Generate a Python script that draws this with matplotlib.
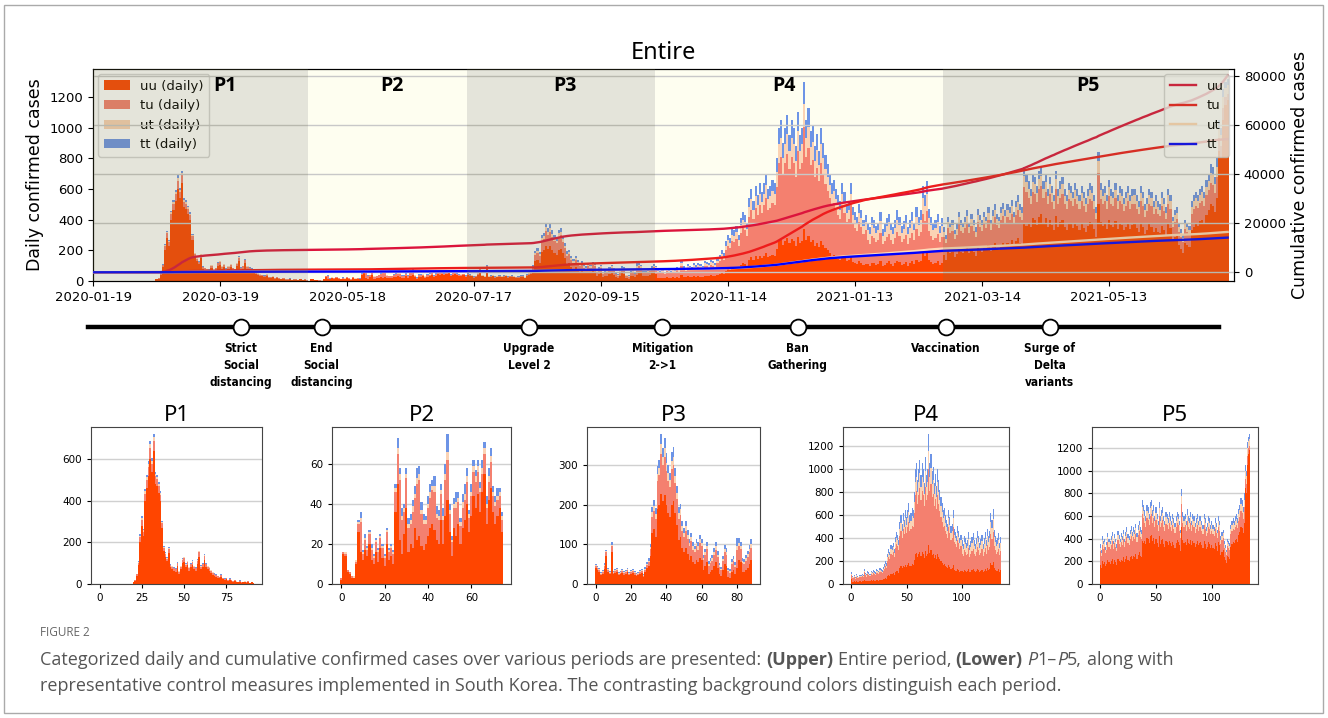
import numpy as np
import pandas as pd
import matplotlib
matplotlib.use("Agg")
import matplotlib.pyplot as plt
from matplotlib import font_manager as fm
from matplotlib.patches import Patch, Rectangle
from matplotlib.lines import Line2D
from matplotlib.ticker import MultipleLocator

# ---------------- data ----------------
START = "2020-01-19"

# days before P1, shown only in the upper panel
pre_uu = [0, 1, 0, 0, 0, 0, 1, 0, 0, 1]
pre_tu = [0, 0, 0, 0, 0, 0, 0, 0, 0, 0]
pre_ut = [0, 0, 0, 0, 0, 0, 0, 0, 0, 0]
pre_tt = [0, 0, 0, 0, 0, 0, 0, 0, 0, 0]

uu_p1 = [1, 0, 0, 1, 0, 0, 0, 1, 0, 0,
         0, 1, 0, 0, 0, 1, 0, 0, 1, 2,
         10, 15, 40, 90, 200, 280, 230, 400, 460, 520,
         600, 540, 640, 480, 470, 440, 400, 270, 160, 130,
         110, 150, 80, 70, 65, 60, 85, 50, 70, 100,
         105, 80, 90, 65, 80, 90, 70, 65, 95, 130,
         70, 80, 115, 80, 70, 65, 55, 45, 40, 35,
         30, 28, 35, 22, 20, 24, 15, 20, 14, 11,
         15, 9, 8, 12, 6, 8, 9, 6, 11, 4,
         8, 3]
tu_p1 = [0, 0, 0, 0, 0, 0, 0, 0, 0, 0,
         0, 0, 0, 0, 0, 0, 0, 0, 0, 0,
         1, 3, 6, 12, 25, 30, 22, 35, 40, 45,
         55, 40, 50, 38, 35, 32, 30, 22, 15, 14,
         12, 18, 10, 12, 11, 10, 14, 9, 12, 16,
         18, 13, 15, 12, 14, 16, 12, 11, 16, 22,
         14, 15, 20, 14, 13, 12, 10, 9, 8, 7,
         7, 6, 7, 5, 5, 5, 4, 5, 4, 3,
         4, 3, 2, 3, 2, 2, 3, 2, 3, 1,
         2, 1]
ut_p1 = [0, 0, 0, 0, 0, 0, 0, 0, 0, 0,
         0, 0, 0, 0, 0, 0, 0, 0, 0, 0,
         0, 1, 2, 4, 8, 10, 8, 12, 14, 15,
         18, 14, 16, 12, 12, 10, 9, 7, 5, 4,
         4, 5, 3, 3, 3, 3, 4, 2, 3, 4,
         5, 3, 4, 3, 4, 4, 3, 3, 4, 5,
         3, 3, 4, 3, 3, 3, 2, 2, 2, 2,
         2, 1, 2, 1, 1, 1, 1, 1, 1, 1,
         1, 1, 0, 1, 0, 1, 1, 0, 1, 0,
         1, 0]
tt_p1 = [0, 0, 0, 0, 0, 0, 0, 0, 0, 0,
         0, 0, 0, 0, 0, 0, 0, 0, 0, 0,
         0, 1, 2, 3, 7, 9, 7, 10, 12, 13,
         16, 12, 14, 11, 10, 9, 8, 6, 4, 4,
         3, 5, 3, 3, 2, 3, 3, 2, 3, 3,
         4, 3, 3, 3, 3, 4, 3, 2, 3, 4,
         3, 3, 4, 3, 3, 2, 2, 2, 2, 2,
         1, 1, 2, 1, 1, 1, 1, 1, 1, 1,
         1, 1, 0, 1, 0, 1, 0, 0, 1, 0,
         1, 0]

uu_p2 = [2, 15, 14, 6, 5, 3, 3, 10, 26, 16,
         12, 17, 14, 20, 12, 10, 16, 11, 18, 13,
         9, 20, 12, 14, 10, 36, 50, 22, 15, 25,
         38, 16, 20, 18, 28, 22, 24, 19, 17, 20,
         24, 28, 30, 27, 22, 20, 32, 20, 34, 42,
         26, 14, 28, 24, 30, 20, 28, 32, 40, 26,
         34, 44, 38, 45, 36, 46, 55, 30, 42, 48,
         36, 30, 34, 38, 26]
tu_p2 = [1, 1, 1, 1, 1, 1, 0, 1, 4, 15,
         3, 5, 3, 5, 5, 3, 5, 5, 5, 5,
         4, 6, 4, 4, 5, 10, 15, 30, 17, 11,
         15, 12, 10, 18, 15, 28, 28, 16, 13, 10,
         14, 15, 17, 19, 11, 12, 13, 12, 18, 20,
         9, 7, 10, 14, 11, 9, 10, 10, 11, 7,
         10, 12, 13, 11, 10, 9, 10, 8, 9, 13,
         8, 9, 8, 6, 6]
ut_p2 = [0, 0, 1, 0, 0, 0, 1, 1, 1, 2,
         1, 1, 1, 1, 1, 1, 1, 1, 1, 1,
         1, 1, 1, 1, 1, 2, 3, 3, 2, 2,
         2, 2, 2, 3, 2, 3, 3, 2, 2, 2,
         2, 3, 2, 3, 2, 2, 2, 2, 3, 4,
         2, 1, 2, 3, 2, 2, 3, 3, 3, 2,
         2, 3, 3, 3, 2, 3, 3, 2, 3, 3,
         2, 2, 2, 2, 2]
tt_p2 = [0, 0, 0, 0, 0, 0, 0, 0, 1, 3,
         1, 2, 1, 1, 2, 1, 1, 1, 1, 1,
         1, 1, 1, 1, 1, 2, 5, 3, 4, 2,
         3, 3, 3, 3, 4, 5, 4, 4, 3, 2,
         4, 4, 3, 5, 4, 3, 3, 4, 5, 9,
         3, 2, 3, 5, 3, 2, 4, 5, 4, 2,
         4, 3, 3, 3, 3, 4, 3, 4, 4, 4,
         3, 3, 4, 2, 2]

uu_p3 = [40, 35, 30, 22, 25, 38, 70, 30, 25, 80,
         25, 28, 30, 22, 25, 28, 24, 26, 30, 22,
         25, 28, 24, 20, 22, 26, 28, 18, 30, 40,
         45, 70, 130, 140, 120, 190, 200, 228, 210, 225,
         200, 180, 170, 200, 210, 180, 150, 110, 120, 90,
         80, 90, 75, 60, 70, 55, 50, 60, 55, 65,
         60, 35, 45, 55, 25, 30, 35, 45, 55, 40,
         25, 20, 35, 50, 45, 18, 15, 30, 35, 25,
         40, 60, 55, 30, 30, 35, 40, 50, 60]
tu_p3 = [5, 5, 5, 4, 5, 8, 10, 5, 4, 15,
         4, 5, 5, 4, 4, 5, 4, 5, 5, 4,
         5, 5, 4, 4, 4, 5, 5, 3, 6, 8,
         10, 18, 40, 45, 45, 70, 75, 100, 90, 95,
         85, 80, 75, 90, 90, 75, 65, 55, 55, 45,
         40, 45, 40, 35, 38, 32, 30, 35, 32, 38,
         35, 25, 28, 33, 20, 22, 24, 28, 32, 27,
         18, 15, 22, 30, 28, 14, 13, 20, 22, 18,
         45, 35, 33, 22, 20, 24, 28, 30, 32]
ut_p3 = [2, 2, 2, 2, 2, 3, 3, 2, 2, 4,
         2, 2, 2, 2, 2, 2, 2, 2, 2, 2,
         2, 2, 2, 2, 2, 2, 2, 2, 3, 3,
         4, 6, 12, 12, 12, 18, 18, 25, 22, 25,
         22, 20, 18, 22, 22, 18, 16, 14, 14, 12,
         10, 12, 10, 9, 10, 8, 8, 9, 8, 10,
         9, 6, 7, 8, 5, 6, 6, 7, 8, 7,
         5, 4, 6, 8, 8, 4, 4, 5, 6, 5,
         12, 9, 8, 6, 5, 6, 7, 8, 9]
tt_p3 = [3, 3, 3, 2, 3, 4, 2, 3, 2, 6,
         2, 3, 3, 2, 3, 3, 2, 3, 3, 2,
         3, 3, 2, 2, 3, 3, 3, 2, 4, 5,
         6, 8, 12, 15, 15, 20, 20, 25, 22, 25,
         23, 20, 18, 22, 25, 20, 18, 15, 14, 13,
         12, 13, 12, 10, 12, 10, 9, 10, 10, 12,
         11, 8, 9, 10, 7, 8, 8, 10, 10, 9,
         6, 5, 8, 10, 10, 5, 5, 7, 8, 7,
         20, 12, 10, 8, 7, 8, 9, 10, 12]

# P4 and P5: daily total (top of the stack) plus uu, ut, tt; tu is the rest
top_p4 = [100, 70, 65, 75, 60, 85, 70, 65, 80, 75,
          90, 80, 130, 95, 85, 110, 100, 90, 115, 105,
          120, 110, 100, 130, 125, 115, 140, 130, 120, 150,
          170, 200, 180, 260, 300, 280, 340, 330, 360, 300,
          410, 450, 430, 380, 540, 600, 520, 620, 560, 640,
          580, 640, 700, 600, 620, 660, 640, 800, 1000, 1050,
          900, 1000, 1080, 950, 1050, 1000, 880, 1100, 950, 1000,
          1300, 1050, 1130, 980, 1020, 880, 960, 850, 1000, 900,
          820, 760, 700, 640, 660, 600, 560, 520, 640, 580,
          500, 520, 640, 480, 450, 420, 500, 460, 400, 430,
          380, 350, 420, 400, 360, 380, 450, 340, 370, 410,
          440, 380, 350, 400, 460, 420, 360, 390, 430, 350,
          400, 450, 380, 480, 420, 460, 620, 560, 650, 470,
          420, 380, 400, 440, 360, 410]
uu_p4 = [45, 20, 18, 22, 17, 25, 20, 18, 23, 21,
         25, 22, 36, 26, 23, 30, 27, 24, 31, 28,
         32, 29, 26, 35, 33, 30, 37, 34, 31, 40,
         45, 52, 47, 68, 78, 73, 88, 86, 94, 78,
         105, 117, 110, 98, 140, 155, 135, 160, 145, 165,
         150, 165, 180, 155, 160, 170, 165, 210, 260, 270,
         235, 260, 280, 245, 275, 260, 230, 285, 245, 260,
         340, 270, 295, 255, 265, 230, 250, 220, 260, 235,
         215, 200, 180, 165, 170, 155, 145, 135, 165, 150,
         130, 135, 165, 125, 115, 110, 130, 120, 105, 110,
         110, 100, 120, 115, 105, 110, 130, 100, 105, 120,
         128, 110, 100, 116, 133, 122, 104, 113, 125, 100,
         116, 130, 110, 140, 122, 133, 180, 162, 190, 136,
         122, 110, 116, 128, 104, 119]
ut_p4 = [10, 8, 8, 9, 7, 10, 8, 8, 10, 9,
         11, 10, 15, 11, 10, 13, 12, 11, 14, 12,
         14, 13, 12, 16, 15, 14, 17, 15, 14, 18,
         20, 24, 22, 31, 36, 34, 41, 40, 43, 36,
         49, 54, 52, 46, 65, 72, 62, 74, 67, 77,
         70, 77, 84, 72, 74, 79, 77, 96, 120, 126,
         108, 120, 130, 114, 126, 120, 106, 132, 114, 120,
         156, 126, 136, 118, 122, 106, 115, 102, 120, 108,
         98, 91, 84, 77, 79, 72, 67, 62, 77, 70,
         60, 62, 77, 58, 54, 50, 60, 55, 48, 52,
         65, 60, 71, 68, 61, 65, 77, 58, 63, 70,
         75, 65, 60, 68, 78, 71, 61, 66, 73, 60,
         68, 77, 65, 82, 71, 78, 105, 95, 110, 80,
         71, 65, 68, 75, 61, 70]
tt_p4 = [10, 8, 7, 9, 7, 10, 8, 7, 9, 9,
         10, 9, 14, 10, 10, 12, 11, 10, 13, 12,
         13, 12, 11, 15, 14, 13, 16, 15, 13, 17,
         19, 22, 20, 29, 33, 31, 37, 36, 40, 33,
         45, 50, 47, 42, 60, 66, 57, 68, 62, 70,
         64, 70, 77, 66, 68, 73, 70, 88, 110, 116,
         99, 110, 119, 105, 116, 110, 97, 121, 105, 110,
         143, 116, 124, 108, 112, 97, 106, 94, 110, 99,
         90, 84, 77, 70, 73, 66, 62, 57, 70, 64,
         55, 57, 70, 53, 50, 46, 55, 51, 44, 47,
         50, 46, 55, 52, 47, 50, 59, 44, 48, 53,
         57, 50, 46, 52, 60, 55, 47, 51, 56, 46,
         52, 59, 50, 62, 55, 60, 81, 73, 85, 61,
         55, 50, 52, 57, 47, 53]

top_p5 = [350, 300, 420, 380, 400, 330, 370, 450, 400, 380,
          420, 460, 380, 440, 400, 350, 470, 430, 400, 450,
          420, 480, 400, 460, 500, 440, 420, 480, 510, 460,
          500, 480, 530, 450, 520, 560, 500, 480, 740, 700,
          650, 600, 700, 680, 620, 720, 740, 650, 700, 600,
          680, 620, 560, 720, 600, 650, 680, 600, 560, 640,
          620, 580, 640, 600, 560, 620, 580, 540, 600, 640,
          620, 560, 480, 840, 640, 600, 620, 560, 660, 600,
          580, 640, 560, 620, 600, 540, 580, 620, 560, 600,
          600, 560, 520, 620, 580, 500, 540, 600, 580, 520,
          560, 520, 500, 580, 540, 480, 600, 560, 420, 460,
          480, 380, 340, 300, 400, 380, 360, 520, 560, 580,
          560, 600, 620, 580, 660, 700, 760, 740, 680, 800,
          1050, 1000, 1250, 1300, 1320]
uu_p5 = [170, 140, 200, 180, 190, 155, 175, 215, 190, 180,
         200, 220, 180, 210, 190, 165, 225, 205, 190, 215,
         205, 235, 195, 225, 245, 215, 205, 235, 250, 225,
         250, 240, 265, 225, 260, 280, 250, 240, 380, 360,
         380, 350, 410, 400, 365, 420, 435, 380, 410, 350,
         400, 365, 330, 425, 355, 385, 400, 355, 330, 380,
         370, 345, 380, 360, 335, 370, 345, 320, 360, 385,
         375, 340, 290, 500, 385, 360, 375, 340, 400, 365,
         355, 390, 340, 380, 365, 330, 355, 380, 340, 365,
         370, 345, 320, 380, 355, 305, 330, 370, 355, 320,
         345, 320, 310, 360, 335, 295, 370, 345, 260, 285,
         300, 235, 210, 185, 250, 235, 220, 330, 355, 370,
         360, 390, 400, 375, 430, 460, 500, 490, 450, 540,
         850, 800, 1050, 1150, 1180]
ut_p5 = [35, 30, 42, 38, 40, 33, 37, 45, 40, 38,
         42, 46, 38, 44, 40, 35, 47, 43, 40, 45,
         40, 46, 38, 44, 48, 42, 40, 46, 49, 44,
         47, 45, 50, 42, 49, 53, 47, 45, 70, 66,
         60, 55, 65, 63, 57, 67, 68, 60, 65, 55,
         62, 57, 51, 66, 55, 60, 62, 55, 51, 59,
         56, 52, 58, 54, 50, 56, 52, 49, 54, 58,
         55, 50, 43, 76, 57, 54, 55, 50, 59, 54,
         51, 57, 50, 55, 53, 48, 51, 55, 50, 53,
         53, 50, 46, 55, 51, 44, 48, 53, 51, 46,
         50, 46, 44, 51, 48, 43, 53, 50, 37, 41,
         42, 34, 30, 27, 35, 34, 32, 46, 49, 51,
         48, 51, 53, 50, 56, 60, 65, 63, 58, 68,
         70, 70, 70, 60, 60]
tt_p5 = [28, 24, 34, 30, 32, 26, 30, 36, 32, 30,
         34, 37, 30, 35, 32, 28, 38, 34, 32, 36,
         32, 37, 31, 35, 38, 34, 32, 37, 39, 35,
         38, 36, 40, 34, 39, 42, 38, 36, 56, 53,
         48, 44, 52, 50, 46, 53, 55, 48, 52, 44,
         50, 46, 41, 53, 44, 48, 50, 44, 41, 47,
         45, 42, 46, 43, 40, 45, 42, 39, 43, 46,
         44, 40, 34, 60, 46, 43, 44, 40, 47, 43,
         41, 45, 40, 44, 43, 38, 41, 44, 40, 43,
         42, 40, 37, 44, 41, 36, 38, 42, 41, 37,
         40, 37, 35, 41, 38, 34, 42, 40, 30, 33,
         34, 27, 24, 21, 28, 27, 26, 37, 40, 41,
         39, 42, 43, 40, 46, 49, 53, 51, 47, 55,
         50, 50, 50, 40, 40]

events = ["Strict\nSocial\ndistancing", "End\nSocial\ndistancing", "Upgrade\nLevel 2",
          "Mitigation\n2->1", "Ban\nGathering", "Vaccination", "Surge of\nDelta\nvariants"]
event_dates = ["2020-03-29", "2020-05-06", "2020-08-12", "2020-10-14",
               "2020-12-17", "2021-02-25", "2021-04-15"]

periods = ["P1", "P2", "P3", "P4", "P5"]
cats = ["uu", "tu", "ut", "tt"]
colors = {"uu": "#FF4500", "tu": "#F4806F", "ut": "#FBD3B4", "tt": "#6D94E6"}
line_colors = {"uu": "#DC143C", "tu": "#EE1C1C", "ut": "#FFDAB9", "tt": "#0000FF"}


# ---------------- fonts ----------------
def has_bold(name):
    for f in fm.fontManager.ttflist:
        if f.name == name:
            w = f.weight
            if (isinstance(w, int) and w >= 600) or w in ("bold", "semibold", "demibold", "heavy"):
                return True
    return False


def pick_bold(names):
    for n in names:
        if has_bold(n):
            return n
    return "DejaVu Sans"


cap_family = pick_bold(["Open Sans", "Lato", "Noto Sans", "Roboto"])
plab_family = pick_bold(["Noto Sans", "Open Sans", "Lato"])


# ---------------- assemble ----------------
def arr(v):
    return np.asarray(v, dtype=float)


data = {
    "P1": {"uu": arr(uu_p1), "tu": arr(tu_p1), "ut": arr(ut_p1), "tt": arr(tt_p1)},
    "P2": {"uu": arr(uu_p2), "tu": arr(tu_p2), "ut": arr(ut_p2), "tt": arr(tt_p2)},
    "P3": {"uu": arr(uu_p3), "tu": arr(tu_p3), "ut": arr(ut_p3), "tt": arr(tt_p3)},
    "P4": {"uu": arr(uu_p4), "ut": arr(ut_p4), "tt": arr(tt_p4),
           "tu": arr(top_p4) - arr(uu_p4) - arr(ut_p4) - arr(tt_p4)},
    "P5": {"uu": arr(uu_p5), "ut": arr(ut_p5), "tt": arr(tt_p5),
           "tu": arr(top_p5) - arr(uu_p5) - arr(ut_p5) - arr(tt_p5)},
}
for p in periods:
    n = {len(data[p][c]) for c in cats}
    assert len(n) == 1, (p, [len(data[p][c]) for c in cats])
    assert all((data[p][c] >= 0).all() for c in cats), p

pre = {"uu": arr(pre_uu), "tu": arr(pre_tu), "ut": arr(pre_ut), "tt": arr(pre_tt)}
full = {c: np.concatenate([pre[c]] + [data[p][c] for p in periods]) for c in cats}
ndays = len(full["uu"])
x_all = np.arange(ndays)

lengths = [len(data[p]["uu"]) for p in periods]
starts = np.cumsum([len(pre_uu)] + lengths[:-1])
ends = starts + np.array(lengths)

W, H = 1328, 718
fig = plt.figure(figsize=(W / 100, H / 100), dpi=100)
fig.patch.set_facecolor("white")


def fbox(l, t, r, b):
    return [l / W, 1 - b / H, (r - l) / W, (b - t) / H]


def stack_bars(ax, x, d):
    bottom = np.zeros(len(x))
    for c in cats:
        ax.bar(x, d[c], bottom=bottom, width=1.0, color=colors[c],
               linewidth=0, zorder=2)
        bottom = bottom + d[c]


# ---------------- upper panel ----------------
ax = fig.add_axes(fbox(93, 69, 1234, 281))
ax2 = ax.twinx()
stack_bars(ax, x_all, full)

for i, p in enumerate(periods):
    lo = -0.5 if i == 0 else starts[i] - 0.5
    hi = ends[i] - 0.5
    if i % 2 == 1:
        ax.axvspan(lo, hi, color="#FEFEF0", zorder=0, lw=0)
    else:
        ax2.axvspan(lo, hi, color="#787846", alpha=0.2, zorder=10, lw=0)

for c in cats:
    ax2.plot(x_all, np.cumsum(full[c]), color=line_colors[c], lw=1.7, zorder=3)

label_shift = [12, 2, 2, -7, 1]
for i, p in enumerate(periods):
    lo = 0 if i == 0 else starts[i]
    xc = (lo + ends[i] - 1) / 2 + label_shift[i]
    ax2.text(xc, 0.92, p, transform=ax2.get_xaxis_transform(), ha="center", va="center",
             fontsize=14, fontweight="bold", family=plab_family, zorder=11)

ax.set_xlim(0, 539)
ax.set_ylim(0, 1382)
ax2.set_ylim(-3550, 82700)
ax.set_yticks(np.arange(0, 1201, 200))
ax2.set_yticks(np.arange(0, 80001, 20000))
ax2.grid(axis="y", color="#c8c8c8", lw=1.0)
ax2.set_axisbelow(True)

tick_dates = pd.date_range(START, periods=9, freq="60D")
ax.set_xticks((tick_dates - pd.Timestamp(START)).days)
ax.set_xticklabels(tick_dates.strftime("%Y-%m-%d"))
ax.tick_params(labelsize=9.5)
ax2.tick_params(labelsize=9.5)
ax.set_ylabel("Daily confirmed cases", fontsize=12.5, labelpad=4)
ax2.set_ylabel("Cumulative confirmed cases", fontsize=12.5, labelpad=4)
ax.set_title("Entire", fontsize=17, family=["Noto Sans", "DejaVu Sans"], pad=7)

h1 = [Patch(facecolor=colors[c], label=f"{c} (daily)") for c in cats]
ax.legend(handles=h1, loc="upper left", fontsize=9.5, framealpha=0.8,
          edgecolor="#cccccc", borderaxespad=0.4, handlelength=2.0)
h2 = [Line2D([], [], color=line_colors[c], lw=1.7, label=c) for c in cats]
ax2.legend(handles=h2, loc="upper right", fontsize=9.5, framealpha=0.8,
           edgecolor="#cccccc", borderaxespad=0.4)

# ---------------- timeline ----------------
tl = fig.add_axes(fbox(93, 310, 1234, 400))
tl.set_xlim(ax.get_xlim())
tl.set_ylim(90, 0)
tl.axis("off")
tl.axhline(17, xmin=-0.004, xmax=0.987, color="black", lw=3.2, clip_on=False, zorder=1)
ev_x = (pd.to_datetime(event_dates) - pd.Timestamp(START)).days
tl.scatter(ev_x, np.full(len(ev_x), 17), s=130, facecolor="white",
           edgecolor="black", linewidth=1.3, zorder=3, clip_on=False)
for xe, lab in zip(ev_x, events):
    tl.text(xe, 32, lab, ha="center", va="top", fontsize=8.5, fontweight="bold",
            fontstretch="condensed", linespacing=1.4, family="DejaVu Sans")

# ---------------- lower panels ----------------
panel_px = [(91, 262), (332, 511), (587, 760), (843, 1009), (1092, 1258)]
x_steps = [25, 20, 20, 50, 50]
for p, (l, r), step in zip(periods, panel_px, x_steps):
    a = fig.add_axes(fbox(l, 427, r, 584))
    d = data[p]
    stack_bars(a, np.arange(len(d["uu"])), d)
    a.set_axisbelow(True)
    a.grid(axis="y", color="#d0d0d0", lw=1.0)
    a.xaxis.set_major_locator(MultipleLocator(step))
    a.tick_params(labelsize=7.5, length=3)
    a.set_title(p, fontsize=16, family=["Noto Sans", "DejaVu Sans"], pad=4)
    for s in a.spines.values():
        s.set_color("#444444")

# ---------------- caption ----------------
CAP_SIZE = 13
fig.text(40 / W, 1 - 636 / H, "FIGURE 2", fontsize=8.5, color="#666666",
         family=cap_family, va="baseline")

renderer = fig.canvas.get_renderer()


def draw_runs(x_px, y_px, runs):
    probe = fig.text(0, 0, "x x", fontsize=CAP_SIZE, family=cap_family)
    w_sp = probe.get_window_extent(renderer).width
    probe.set_text("xx")
    w_sp -= probe.get_window_extent(renderer).width
    probe.remove()
    x = x_px
    for item in runs:
        if item == " ":
            x += w_sp
            continue
        txt, style = item if isinstance(item, tuple) else (item, "normal")
        kw = {}
        if style == "bold":
            kw["fontweight"] = "bold"
        if style == "italic":
            kw["fontstyle"] = "italic"
        t = fig.text(x / W, 1 - y_px / H, txt, fontsize=CAP_SIZE, color="#555555",
                     family=cap_family, va="baseline", **kw)
        x += t.get_window_extent(renderer).width


line1 = ["Categorized daily and cumulative confirmed cases over various periods are presented:", " ",
         ("(Upper)", "bold"), " ", "Entire period,", " ", ("(Lower)", "bold"), " ",
         ("P", "italic"), "1\u2013", ("P", "italic"), "5,", " ", "along with"]
line2 = ["representative control measures implemented in South Korea. The contrasting background colors distinguish each period."]
draw_runs(40, 665, line1)
draw_runs(40, 691, line2)

fig.patches.append(Rectangle((4 / W, 5 / H), 1 - 9 / W, 1 - 10 / H, transform=fig.transFigure,
                             fill=False, edgecolor="#aaaaaa", lw=1.0))

fig.savefig("out.png", dpi=100)
